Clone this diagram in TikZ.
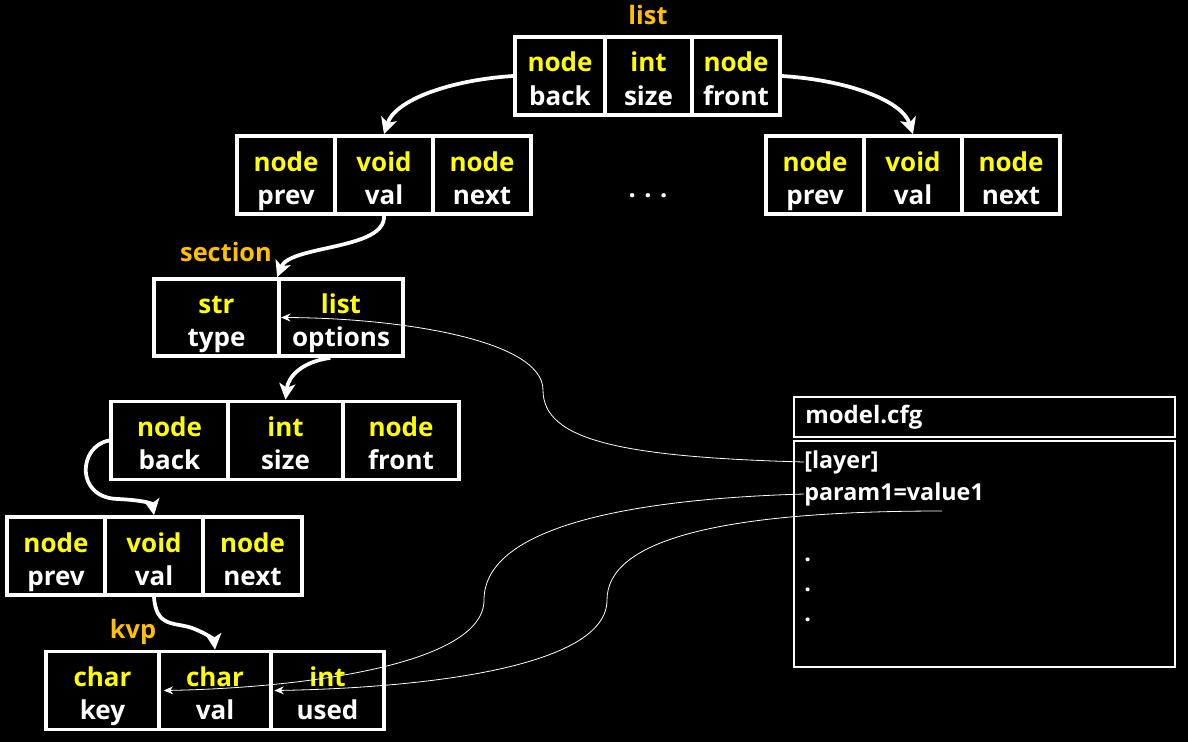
\documentclass[tikz,border=0pt]{standalone}
\usepackage{fontspec}
\setmainfont{Open Sans}
\usetikzlibrary{arrows.meta}
\definecolor{ty}{RGB}{255,255,0}
\definecolor{lb}{RGB}{255,192,0}
\newcommand{\topstrut}{\rule{0pt}{23.75pt}}
\newcommand{\botstrut}{\rule[-5pt]{0pt}{5pt}}
\newcommand{\mkcell}[6]{\node[cellbox, minimum width=#4*0.75pt] (#1) at (#2,#3) {\textcolor{ty}{\topstrut#5}\\#6\botstrut};}
\begin{document}
\begin{tikzpicture}[x=0.75pt,y=-0.75pt,
  cellbox/.style={draw=white, line width=2.8pt, rectangle, align=center, inner sep=0pt,
    minimum height=58.5pt, font=\fontsize{19.5}{24.75}\selectfont\bfseries, text=white},
  lbl/.style={text=lb, font=\fontsize{19}{22}\selectfont\bfseries, inner sep=0pt},
  cfgtext/.style={text=white, font=\fontsize{17.5}{22}\selectfont\bfseries, inner sep=0pt, anchor=west},
  cfgbox/.style={draw=white, line width=1pt, rectangle, inner sep=0pt},
  bigarrow/.style={draw=white, line width=2.8pt, -{Stealth[length=12pt,width=12pt,inset=3pt]}},
  thinarrow/.style={draw=white, line width=0.6pt, -{Stealth[length=7pt,width=6pt]}}
]
\fill[black] (0,0) rectangle (1188,742);
\useasboundingbox (0,0) rectangle (1188,742);

% labels
\node[lbl] (lablist) at (648,15) {list};
\node[lbl] (labsec) at (226,252) {section};
\node[lbl] (labkvp) at (133,632) {kvp};

% top list
\mkcell{tb}{560}{76}{90}{node}{back}
\mkcell{ts}{648.5}{76}{87}{int}{size}
\mkcell{tf}{736}{76}{88}{node}{front}

% left node
\mkcell{la1}{286}{175}{98}{node}{prev}
\mkcell{la2}{384}{175}{98}{void}{val}
\mkcell{la3}{482}{175}{98}{node}{next}

% right node
\mkcell{ra1}{815}{175}{98}{node}{prev}
\mkcell{ra2}{913}{175}{98}{void}{val}
\mkcell{ra3}{1011}{175}{98}{node}{next}

\node[text=white, font=\fontsize{19}{22}\selectfont\bfseries] (dots) at (648,196) {.\,\,.\,\,.};

% section
\node[cellbox, minimum width=125*0.75pt, minimum height=57.75pt] (sec1) at (216.5,317.5) {\textcolor{ty}{\topstrut str}\\type\botstrut};
\node[cellbox, minimum width=124*0.75pt, minimum height=57.75pt] (sec2) at (341,317.5) {\textcolor{ty}{\topstrut list}\\options\botstrut};

% second list
\mkcell{ls1}{169.5}{440.5}{117}{node}{back}
\mkcell{ls2}{285.5}{440.5}{115}{int}{size}
\mkcell{ls3}{401}{440.5}{116}{node}{front}

% lower node
\mkcell{nb1}{56}{556}{98}{node}{prev}
\mkcell{nb2}{154}{556}{98}{void}{val}
\mkcell{nb3}{252.5}{556}{99}{node}{next}

% kvp
\mkcell{kv1}{102.5}{690.5}{113}{char}{key}
\mkcell{kv2}{215}{690.5}{112}{char}{val}
\mkcell{kv3}{327.5}{690.5}{113}{int}{used}

% model.cfg
\node[cfgbox, minimum width=381*0.75pt, minimum height=40*0.75pt] (cfgt) at (984.5,417) {};
\node[cfgtext, font=\fontsize{18}{22}\selectfont\bfseries] (cfgname) at (805,417) {model.cfg};
\node[cfgbox, minimum width=381*0.75pt, minimum height=226*0.75pt] (cfgb) at (984.5,554) {};
\node[cfgtext] (layer) at (804,462) {[layer]};
\node[cfgtext] (param) at (804,494) {param1=value1};
\node[cfgtext] (d1) at (804,560) {.};
\node[cfgtext] (d2) at (804,590) {.};
\node[cfgtext] (d3) at (804,620) {.};
\coordinate (pend) at (942,511);

% thick arrows
\draw[bigarrow] (tb.west) .. controls (450,80) and (395,100) .. (la2.north);
\draw[bigarrow] (tf.east) .. controls (846,80) and (902,100) .. (ra2.north);
\draw[bigarrow] (la2.south) .. controls (386,250) and (290,245) .. (sec2.north west);
\draw[bigarrow] ([xshift=-8pt]sec2.south) .. controls (300,362) and (288,378) .. (ls2.north);
\draw[bigarrow] (ls1.west) .. controls (78,446) and (75,498) .. (118,499) .. controls (140,500) and (152,503) .. (nb2.north);
\draw[bigarrow] (nb2.south) .. controls (156,628) and (175,622) .. (192,628) .. controls (208,634) and (214,640) .. (kv2.north);

% thin arrows
\draw[thinarrow] (layer.west) .. controls (620,457) and (543,440) .. (543,390) .. controls (543,340) and (400,318) .. ([xshift=3pt]sec2.west);
\draw[thinarrow] (param.west) .. controls (600,500) and (484,535) .. (484,600) .. controls (484,665) and (300,688) .. ([xshift=5pt]kv2.west);
\draw[thinarrow] (pend) .. controls (720,511) and (607,540) .. (607,600) .. controls (607,668) and (420,688) .. ([xshift=4pt]kv3.west);
\end{tikzpicture}
\end{document}
